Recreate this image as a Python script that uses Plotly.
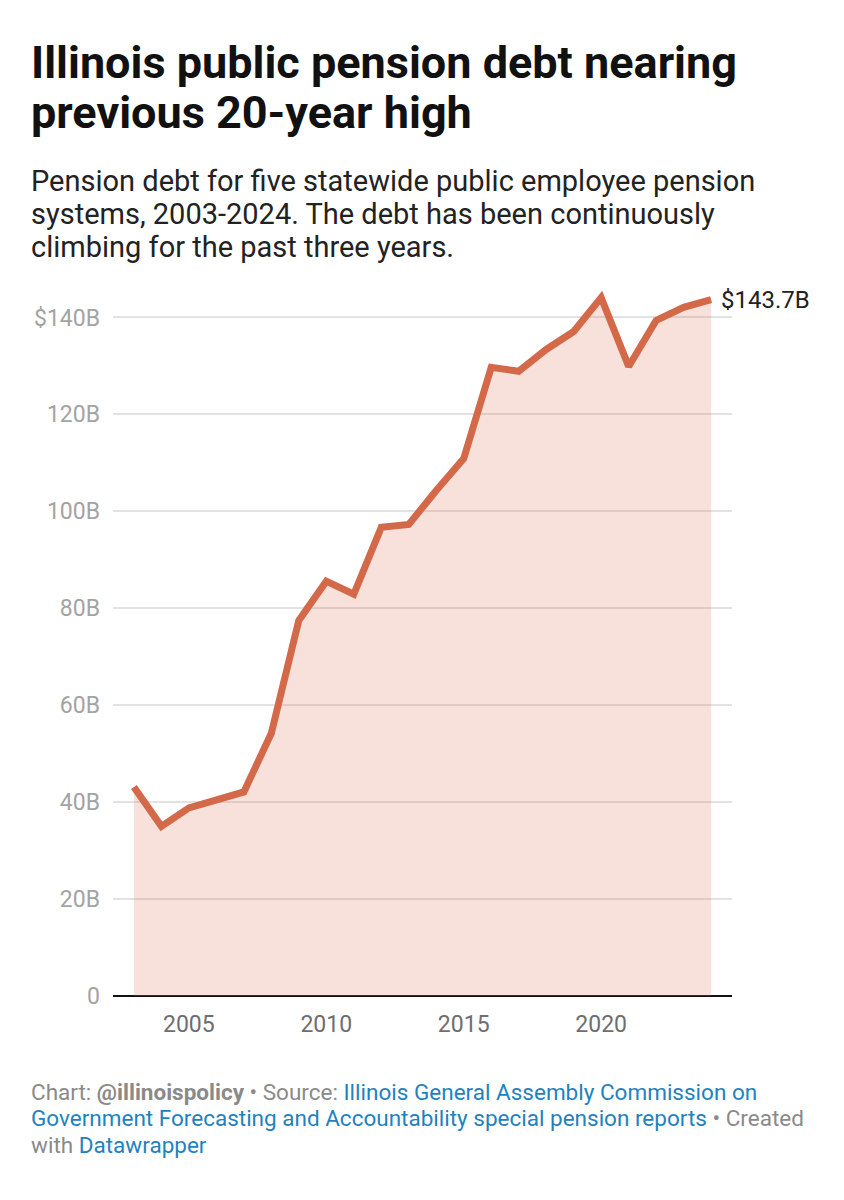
import plotly.graph_objects as go

years = list(range(2003, 2025))
debt_b = [43.1, 35.0, 38.8, 40.6, 42.1, 54.2, 77.5, 85.6, 82.9, 96.7, 97.3,
          104.3, 110.9, 129.7, 128.9, 133.4, 137.1, 144.1, 129.9, 139.4, 142.1, 143.7]
y_ticks = [0, 20, 40, 60, 80, 100, 120, 140]
y_ticktext = ["0", "20B", "40B", "60B", "80B", "100B", "120B", "$140B"]
x_ticks = [2005, 2010, 2015, 2020]

title_lines = ["Illinois public pension debt nearing", "previous 20-year high"]
subtitle_lines = ["Pension debt for five statewide public employee pension",
                  "systems, 2003-2024. The debt has been continuously",
                  "climbing for the past three years."]

LINE = "#d4694a"
FILL = "rgba(222,120,90,0.22)"
FONT = "Roboto"

W, H = 844, 1200
L, R, T, B = 113, 112, 268.5, 204
pw = W - L - R
ph = H - T - B

def px(x):
    return (x - L) / pw

def py(y):
    return (H - B - y) / ph

fig = go.Figure()
fig.add_trace(go.Scatter(
    x=years, y=debt_b, mode="lines",
    line=dict(color=LINE, width=7, shape="linear"),
    fill="tozeroy", fillcolor=FILL,
    hoverinfo="skip", showlegend=False, cliponaxis=False,
))

ann = []
TX = 29
for yy, t in zip([62, 112], title_lines):
    ann.append(dict(x=px(TX), y=py(yy), xref="paper", yref="paper", xanchor="left", yanchor="middle",
                    align="left", showarrow=False, text=f"<b>{t}</b>",
                    font=dict(family=FONT, size=45, color="#111111")))
for yy, t in zip([180, 213, 246], subtitle_lines):
    ann.append(dict(x=px(TX), y=py(yy), xref="paper", yref="paper", xanchor="left", yanchor="middle",
                    align="left", showarrow=False, text=t,
                    font=dict(family=FONT, size=29, color="#222222")))
ann.append(dict(x=years[-1], y=debt_b[-1], xref="x", yref="y", xanchor="left", yanchor="middle",
                xshift=8, showarrow=False, text="$%.1fB" % debt_b[-1],
                font=dict(family=FONT, size=24, color="#222222")))

GRAY = "#8a8a8a"
BLUE = "#1f82c0"
footer = [
    (1092, f"<span style='color:{GRAY}'>Chart: <b>@illinoispolicy</b> • Source: </span>"
           f"<span style='color:{BLUE}'>Illinois General Assembly Commission on</span>"),
    (1118, f"<span style='color:{BLUE}'>Government Forecasting and Accountability special pension reports</span>"
           f"<span style='color:{GRAY}'> • Created</span>"),
    (1145, f"<span style='color:{GRAY}'>with </span><span style='color:{BLUE}'>Datawrapper</span>"),
]
for yy, t in footer:
    ann.append(dict(x=px(TX), y=py(yy), xref="paper", yref="paper", xanchor="left", yanchor="middle",
                    align="left", showarrow=False, text=t,
                    font=dict(family=FONT, size=22.5, color=GRAY)))

fig.update_layout(
    width=W, height=H,
    margin=dict(l=L, r=R, t=T, b=B, pad=0),
    paper_bgcolor="white", plot_bgcolor="white",
    annotations=ann,
    xaxis=dict(range=[2002.24, 2024.76], tickvals=x_ticks, showgrid=False, zeroline=False,
               showline=False, ticks="", ticklabelstandoff=12,
               tickfont=dict(family=FONT, size=23, color="#6e6e6e")),
    yaxis=dict(range=[0, 150], tickvals=y_ticks, ticktext=y_ticktext, showgrid=True,
               gridcolor="#e2e2e2", gridwidth=1.5, zeroline=True, zerolinecolor="#111111",
               zerolinewidth=1.5, showline=False, ticks="", ticklabelstandoff=12,
               tickfont=dict(family=FONT, size=23, color="#a3a3a3")),
    font=dict(family=FONT),
)
fig.write_html("out.html")
